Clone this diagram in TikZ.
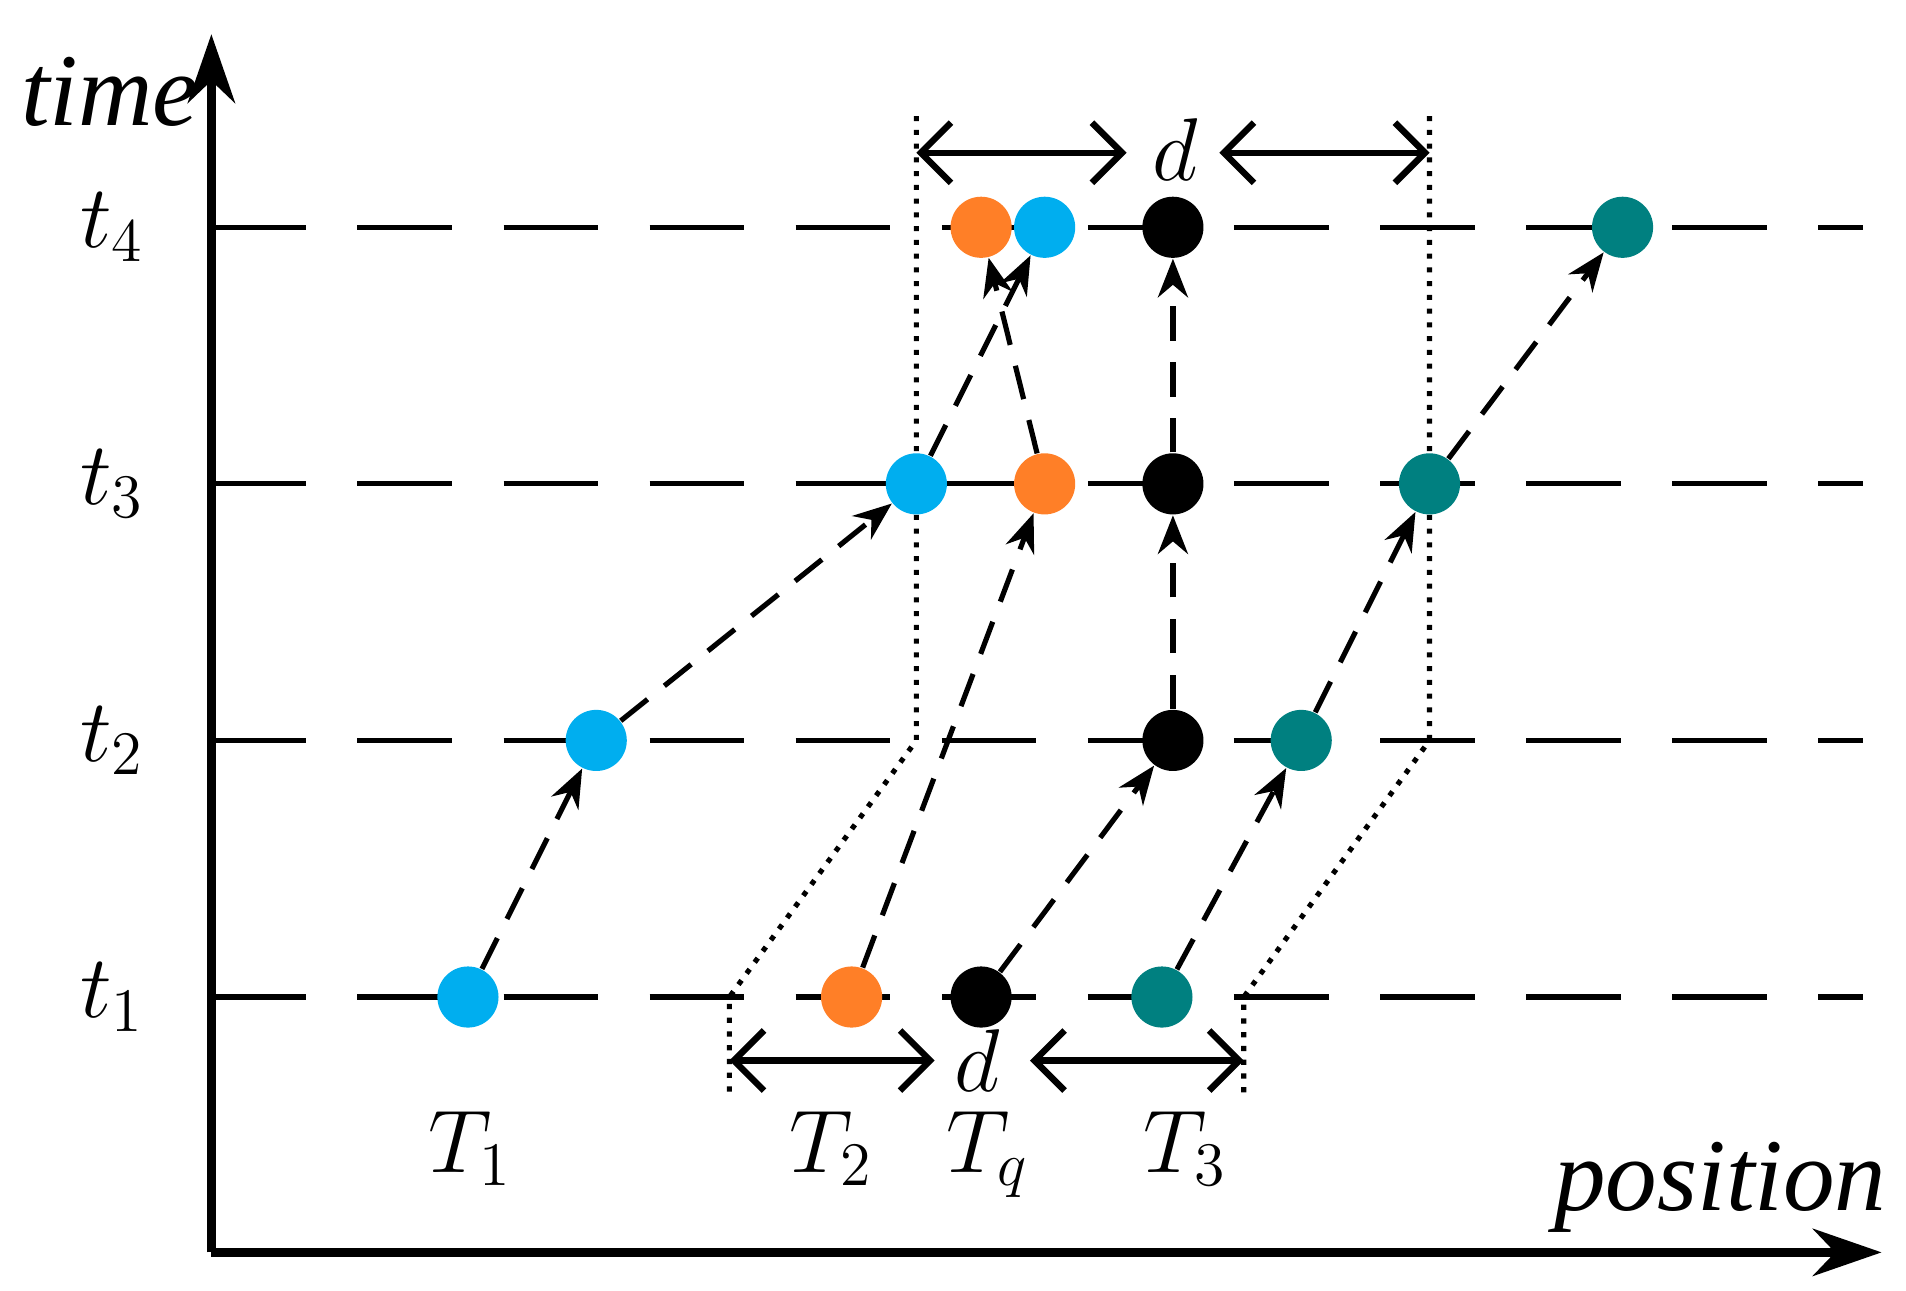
\documentclass[tikz,border=0pt]{standalone}
\usepackage{fontspec}
\setmainfont{Liberation Serif}
\usetikzlibrary{arrows.meta}
\definecolor{cblue}{RGB}{0,174,239}
\definecolor{corange}{RGB}{255,127,39}
\definecolor{cteal}{RGB}{0,128,128}
\begin{document}
\begin{tikzpicture}[x=0.01cm,y=-0.01cm,
  dot/.style={circle,minimum size=0.5cm,inner sep=0pt},
  traj/.style={dashed,dash pattern=on 8pt off 5pt,line width=1.2pt,-{Stealth[length=9pt,width=7pt]}},
  guide/.style={dotted,line width=1.2pt},
  grid/.style={dash pattern=on 22pt off 12pt,line width=1.2pt},
  lbl/.style={font=\fontsize{21}{25}\selectfont\itshape,inner sep=0pt},
  dim/.style={line width=1.5pt,{Straight Barb[length=7pt]}-{Straight Barb[length=7pt]}}]
\useasboundingbox (0,0) rectangle (1560,1056);
% axes
\coordinate (O) at (173,1025);
\coordinate (ytop) at (173,28);
\coordinate (xend) at (1540,1025);
\draw[line width=2pt,-{Stealth[length=16pt,width=11pt]}] (O) -- (ytop);
\draw[line width=2pt,-{Stealth[length=16pt,width=11pt]}] (O) -- (xend);
\node[lbl,font=\fontsize{24}{28}\selectfont\itshape] (time) at (90,75) {time};
\node[lbl,font=\fontsize{24}{28}\selectfont\itshape] (pos) at (1408,972) {position};
% grid lines
\foreach \y/\n in {186/4,396/3,606/2,816/1}{
  \coordinate (gl\n) at (173,\y); \coordinate (gr\n) at (1525,\y);
  \draw[grid] (gl\n) -- (gr\n);
  \node[lbl] (t\n) at (92,\y) {$t_{\n}$};
}
% dotted guides
\coordinate (a1) at (750,95); \coordinate (a2) at (750,606); \coordinate (a3) at (597,816); \coordinate (a4) at (597,895);
\coordinate (b1) at (1170,95); \coordinate (b2) at (1170,606); \coordinate (b3) at (1018,816); \coordinate (b4) at (1018,895);
\draw[guide] (a1) -- (a2) -- (a3) -- (a4);
\draw[guide] (b1) -- (b2) -- (b3) -- (b4);
% dots
\node[dot,fill=cblue] (B1) at (383,816) {};
\node[dot,fill=cblue] (B2) at (488,606) {};
\node[dot,fill=cblue] (B3) at (750,396) {};
\node[dot,fill=cblue] (B4) at (855,186) {};
\node[dot,fill=corange] (R1) at (697,816) {};
\node[dot,fill=corange] (R3) at (855,396) {};
\node[dot,fill=corange] (R4) at (803,186) {};
\node[dot,fill=black] (K1) at (803,816) {};
\node[dot,fill=black] (K2) at (960,606) {};
\node[dot,fill=black] (K3) at (960,396) {};
\node[dot,fill=black] (K4) at (960,186) {};
\node[dot,fill=cteal] (G1) at (951,816) {};
\node[dot,fill=cteal] (G2) at (1065,606) {};
\node[dot,fill=cteal] (G3) at (1170,396) {};
\node[dot,fill=cteal] (G4) at (1328,186) {};
% trajectories
\draw[traj] (B1) -- (B2); \draw[traj] (B2) -- (B3); \draw[traj] (B3) -- (B4);
\draw[traj] (R1) -- (R3); \draw[traj] (R3) -- (R4);
\draw[traj] (K1) -- (K2); \draw[traj] (K2) -- (K3); \draw[traj] (K3) -- (K4);
\draw[traj] (G1) -- (G2); \draw[traj] (G2) -- (G3); \draw[traj] (G3) -- (G4);
% dimension arrows
\node[lbl] (d1) at (962,122) {$d$};
\node[lbl] (d2) at (800,868) {$d$};
\coordinate (u1) at (750,125); \coordinate (u2) at (922,125);
\coordinate (u3) at (998,125); \coordinate (u4) at (1170,125);
\coordinate (v1) at (597,868); \coordinate (v2) at (765,868);
\coordinate (v3) at (843,868); \coordinate (v4) at (1018,868);
\draw[dim] (u1) -- (u2); \draw[dim] (u3) -- (u4);
\draw[dim] (v1) -- (v2); \draw[dim] (v3) -- (v4);
% trajectory labels
\node[lbl] (T1) at (385,940) {$T_1$};
\node[lbl] (T2) at (680,940) {$T_2$};
\node[lbl] (Tq) at (808,945) {$T_q$};
\node[lbl] (T3) at (970,940) {$T_3$};
\end{tikzpicture}
\end{document}
